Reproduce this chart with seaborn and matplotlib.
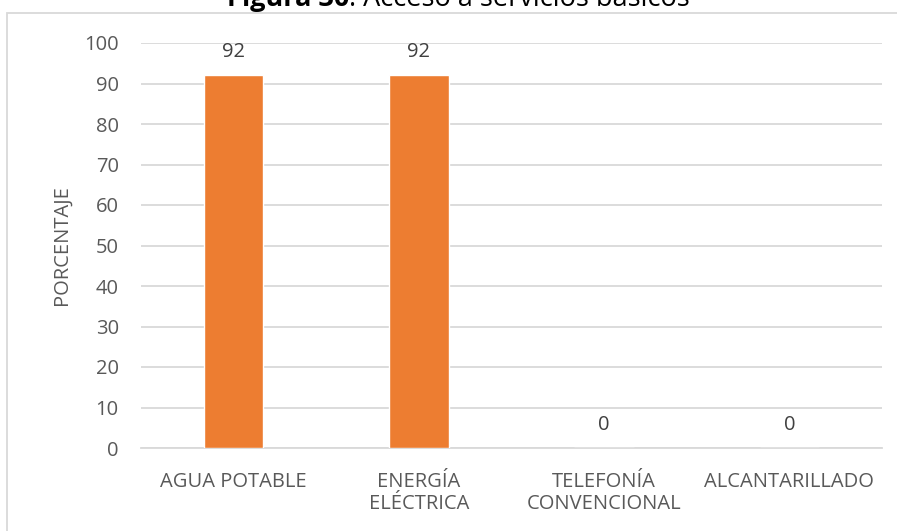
import matplotlib.pyplot as plt
import matplotlib.patches as mpatches
import seaborn as sns
import pandas as pd

categorias = ["AGUA POTABLE", "ENERGÍA\nELÉCTRICA", "TELEFONÍA\nCONVENCIONAL", "ALCANTARILLADO"]
porcentaje = [92, 92, 0, 0]
yticks = list(range(0, 101, 10))

sns.set_theme(style="white")
plt.rcParams['font.family'] = ['Open Sans', 'DejaVu Sans']
gris = "#595959"
fs = 14.5

df = pd.DataFrame({"cat": categorias, "pct": porcentaje})

fig = plt.figure(figsize=(8.97, 5.31), dpi=100)
bottom, top = 1 - 448 / 531, 1 - 43 / 531
left, right = 141 / 897, 882 / 897
ax = fig.add_axes([left, bottom, right - left, top - bottom])

sns.barplot(data=df, x="cat", y="pct", color="#ED7D31", width=0.32,
            saturation=1, ax=ax, zorder=3)

for i, v in enumerate(porcentaje):
    ax.annotate(str(v), (i, v), xytext=(0, 16.5), textcoords="offset points",
                ha="center", va="center", fontsize=fs, color="#404040")

ax.set_ylim(0, 100)
ax.set_xlim(-0.5, 3.5)
ax.set_yticks(yticks)
ax.yaxis.grid(True, color="#D9D9D9", linewidth=1.3, zorder=0)
ax.xaxis.grid(False)
for s in ax.spines.values():
    s.set_visible(False)
ax.spines["bottom"].set_visible(True)
ax.spines["bottom"].set_color("#D9D9D9")
ax.spines["bottom"].set_linewidth(1.3)
ax.tick_params(axis="both", length=0, labelsize=fs, labelcolor=gris)
ax.tick_params(axis="y", pad=16)
ax.tick_params(axis="x", pad=17)
for lbl in ax.get_xticklabels():
    lbl.set_linespacing(1.15)
ax.set_xlabel("")
ax.set_ylabel("PORCENTAJE", fontsize=fs, color=gris, labelpad=9)

# chart frame
fig.patches.append(mpatches.Rectangle((7 / 897, -0.05), 1.0, 1 - 13 / 531 + 0.05,
                                      transform=fig.transFigure, fill=False,
                                      edgecolor="#D9D9D9", linewidth=1.3))

# title (cut off at the top edge, as in the original)
ty = 1 - 6 / 531
t1 = fig.text(227 / 897, ty, "Figura 30", fontsize=19.5, fontweight="bold",
              ha="left", va="baseline", color="black")
fig.canvas.draw()
bb = t1.get_window_extent()
fig.text(bb.x1 / fig.bbox.width, ty, ": Acceso a servicios básicos", fontsize=19.5,
         ha="left", va="baseline", color="black")

fig.savefig("out.png", dpi=100)
